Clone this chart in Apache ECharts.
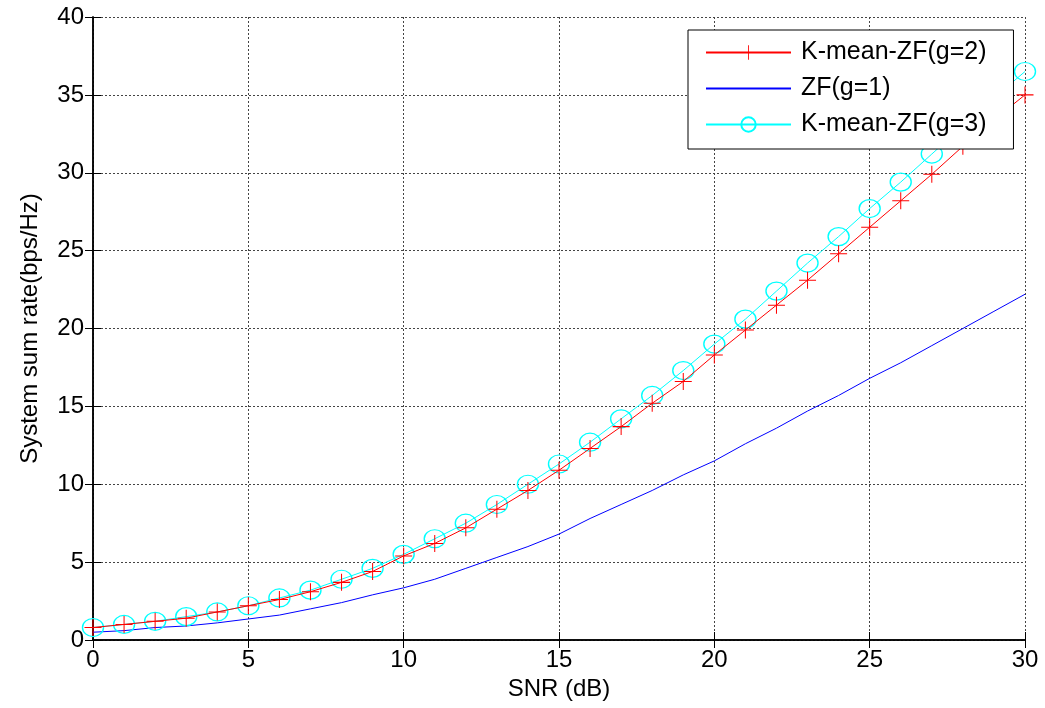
<!DOCTYPE html>
<html>
<head>
<meta charset="utf-8">
<script src="https://cdn.jsdelivr.net/npm/echarts@6/dist/echarts.min.js"></script>
<style>
  html, body { margin: 0; padding: 0; background: #fff; }
  #chart { width: 1045px; height: 708px; }
</style>
</head>
<body>
<div id="chart"></div>
<script>
// SNR points (dB)
const snr = [0, 1, 2, 3, 4, 5, 6, 7, 8, 9, 10, 11, 12, 13, 14, 15, 16, 17, 18, 19, 20, 21, 22, 23, 24, 25, 26, 27, 28, 29, 30]
// K-mean-ZF(g=2)
const kmeanG2 = [0.8, 1.0, 1.2, 1.4, 1.8, 2.2, 2.6, 3.1, 3.7, 4.4, 5.4, 6.2, 7.2, 8.4, 9.6, 10.9, 12.3, 13.7, 15.2, 16.6, 18.3, 19.9, 21.5, 23.1, 24.8, 26.5, 28.2, 29.9, 31.7, 33.4, 35.0]
// ZF(g=1)
const zfG1 = [0.5, 0.6, 0.8, 0.9, 1.1, 1.35, 1.6, 2.0, 2.4, 2.9, 3.35, 3.9, 4.6, 5.3, 6.0, 6.8, 7.8, 8.7, 9.6, 10.6, 11.5, 12.6, 13.6, 14.7, 15.7, 16.8, 17.8, 18.9, 20.0, 21.1, 22.2]
// K-mean-ZF(g=3)
const kmeanG3 = [0.8, 1.0, 1.2, 1.5, 1.8, 2.2, 2.7, 3.2, 3.9, 4.6, 5.5, 6.5, 7.5, 8.7, 10.0, 11.3, 12.7, 14.2, 15.7, 17.3, 19.0, 20.6, 22.4, 24.2, 25.9, 27.7, 29.4, 31.2, 33.0, 34.8, 36.5]

const pair = arr => arr.map((v, i) => [snr[i], v])
// thin plus sign marker, filled so it draws like a stroked '+'
const plusPath = 'path://M-0.06,-1H0.06V-0.06H1V0.06H0.06V1H-0.06V0.06H-1V-0.06H-0.06Z'
const fontFamily = '"Liberation Sans", Arial, sans-serif'

const chart = echarts.init(document.getElementById('chart'))

const axisLine = { show: true, lineStyle: { color: '#000', width: 1.5 } }
const tick = { show: true, inside: true, length: 8, lineStyle: { color: '#000', width: 1 } }
const grid = { show: true, lineStyle: { color: '#444', type: [2, 2], width: 1 } }

const option = {
  backgroundColor: '#fff',
  animation: false,
  textStyle: { fontFamily: fontFamily },
  grid: { left: 93, right: 20, top: 17, bottom: 68 },
  legend: {
    orient: 'vertical',
    z: 20,
    left: 688,
    top: 30,
    backgroundColor: '#fff',
    borderColor: '#000',
    borderWidth: 1,
    padding: [10, 27, 12, 17],
    itemGap: 11,
    itemWidth: 85,
    itemHeight: 18,
    textStyle: { fontSize: 25, color: '#000', fontFamily: fontFamily, padding: [0, 0, 0, 5] },
    data: ['K-mean-ZF(g=2)', 'ZF(g=1)', 'K-mean-ZF(g=3)']
  },
  xAxis: [
    {
      type: 'value',
      min: 0,
      max: 30,
      interval: 5,
      name: 'SNR (dB)',
      nameLocation: 'middle',
      nameGap: 37,
      nameTextStyle: { fontSize: 24, color: '#000' },
      axisLine: axisLine,
      axisTick: tick,
      axisLabel: { fontSize: 24, color: '#000', margin: 8 },
      splitLine: grid
    },
    {
      type: 'value',
      position: 'top',
      min: 0,
      max: 30,
      interval: 5,
      axisLine: axisLine,
      axisTick: tick,
      axisLabel: { show: false },
      splitLine: { show: false }
    }
  ],
  yAxis: [
    {
      type: 'value',
      min: 0,
      max: 40,
      interval: 5,
      name: 'System sum rate(bps/Hz)',
      nameLocation: 'middle',
      nameGap: 51,
      nameTextStyle: { fontSize: 24, color: '#000' },
      axisLine: axisLine,
      axisTick: tick,
      axisLabel: { fontSize: 24, color: '#000', margin: 9 },
      splitLine: grid
    },
    {
      type: 'value',
      position: 'right',
      min: 0,
      max: 40,
      interval: 5,
      axisLine: axisLine,
      axisTick: tick,
      axisLabel: { show: false },
      splitLine: { show: false }
    }
  ],
  series: [
    {
      name: 'K-mean-ZF(g=2)',
      type: 'line',
      data: pair(kmeanG2),
      z: 4,
      symbol: plusPath,
      symbolSize: 17,
      showAllSymbol: true,
      lineStyle: { color: '#ff0000', width: 1 },
      itemStyle: { color: '#ff0000' }
    },
    {
      name: 'ZF(g=1)',
      type: 'line',
      data: pair(zfG1),
      z: 2,
      symbol: 'none',
      lineStyle: { color: '#0000ff', width: 1 },
      itemStyle: { color: 'rgba(0,0,0,0)', borderWidth: 0 }
    },
    {
      name: 'K-mean-ZF(g=3)',
      type: 'line',
      data: pair(kmeanG3),
      z: 3,
      symbol: 'circle',
      symbolSize: [21, 18],
      showAllSymbol: true,
      lineStyle: { color: '#00ffff', width: 1 },
      itemStyle: { color: 'rgba(0,0,0,0)', borderColor: '#00ffff', borderWidth: 1.3 }
    }
  ]
}

chart.setOption(option)
</script>
</body>
</html>
